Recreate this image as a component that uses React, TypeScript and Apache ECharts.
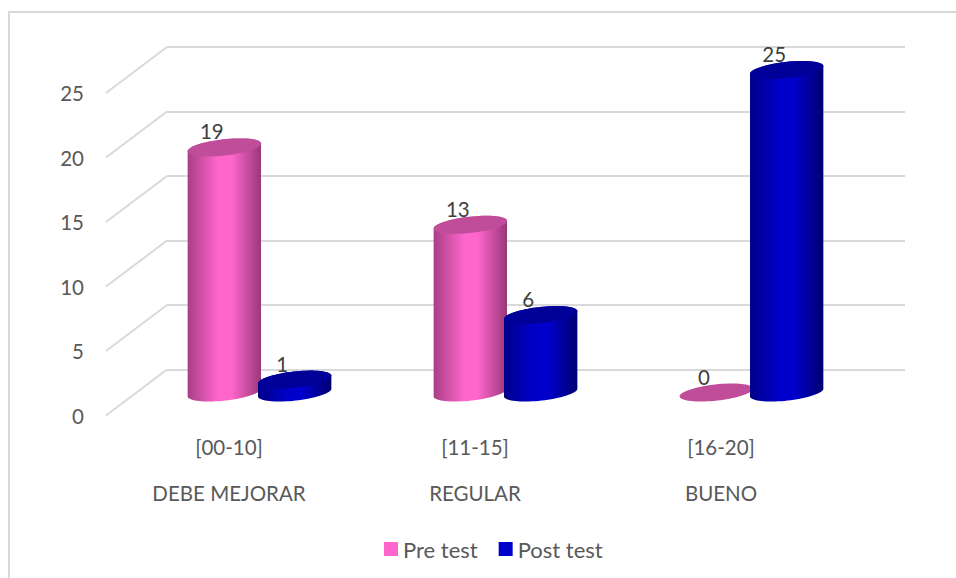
import React, { useEffect, useRef } from "react";
import * as echarts from "echarts";

const ranges = ["[00-10]", "[11-15]", "[16-20]"];
const ratings = ["DEBE MEJORAR", "REGULAR", "BUENO"];
const preTest = [19, 13, 0];
const postTest = [1, 6, 25];
const valueTicks = [0, 5, 10, 15, 20, 25];

const FONT = "Lato, Carlito, sans-serif";
const GRID_GREY = "#D9D9D9";

// Oblique depth of the floor: front plane, column plane, back wall.
const FRONT = { left: 106, top: 93, width: 738, height: 323 };
const MIDDLE = { left: 136.5, top: 70, width: 738, height: 322.5 };
const BACK = { left: 167, top: 47, width: 738, height: 322.5 };

// Column shape as fractions of a category band.
const RADIUS_SHARE = 0.15;
const OFFSET_SHARE = 0.143;
const MINOR_AXIS = 0.22;
const TILT = (6.3 * Math.PI) / 180;

function ellipsePoint(cx: number, cy: number, a: number, b: number, t: number) {
  const ex = a * Math.cos(t);
  const ey = b * Math.sin(t);
  return [cx + ex * Math.cos(TILT) + ey * Math.sin(TILT), cy - ex * Math.sin(TILT) + ey * Math.cos(TILT)];
}

function ellipseRing(cx: number, cy: number, a: number, b: number) {
  const pts: number[][] = [];
  for (let i = 0; i < 72; i++) pts.push(ellipsePoint(cx, cy, a, b, (i / 72) * Math.PI * 2));
  return pts;
}

function cylinderSeries(name: string, values: number[], side: number, main: string, top: string, dark: string, darker: string) {
  return {
    type: "custom",
    name,
    xAxisIndex: 3,
    yAxisIndex: 2,
    z: 3,
    clip: false,
    silent: true,
    itemStyle: { color: main },
    data: values.map((v, i) => [i, v]),
    renderItem: (_params: any, api: any) => {
      const band = api.size([1, 0])[0];
      const [centerX, topY] = api.coord([api.value(0), api.value(1)]);
      const baseY = api.coord([api.value(0), 0])[1];
      const cx = centerX + side * band * OFFSET_SHARE;
      const a = band * RADIUS_SHARE;
      const b = a * MINOR_AXIS;
      const children: any[] = [];
      if (api.value(1) > 0) {
        // Side wall: lower half of the base ellipse, closed over the upper rim
        // so the cap sits on the wall without a seam.
        const outline: number[][] = [];
        for (let i = 0; i <= 36; i++) {
          outline.push(ellipsePoint(cx, baseY, a, b, Math.PI - (i / 36) * Math.PI));
        }
        for (let i = 0; i <= 36; i++) {
          outline.push(ellipsePoint(cx, topY, a, b, -(i / 36) * Math.PI));
        }
        children.push({
          type: "polygon",
          shape: { points: outline },
          style: {
            fill: new echarts.graphic.LinearGradient(0, 0, 1, 0, [
              { offset: 0, color: dark },
              { offset: 0.42, color: main },
              { offset: 0.6, color: main },
              { offset: 1, color: darker },
            ]),
          },
        });
      }
      children.push({
        type: "polygon",
        shape: { points: ellipseRing(cx, topY, a, b) },
        style: { fill: top },
      });
      children.push({
        type: "text",
        z2: 10,
        style: {
          text: String(api.value(1)),
          x: cx - 12.5,
          y: topY - 16,
          align: "center",
          verticalAlign: "middle",
          fontSize: 20.5,
          fontFamily: FONT,
          fill: "#404040",
        },
      });
      return { type: "group", children };
    },
  };
}

export default function App() {
  const ref = useRef<HTMLDivElement>(null);

  useEffect(() => {
    const chart = echarts.init(ref.current!, undefined, { renderer: "svg" });
    const hiddenCategory = (gridIndex: number) => ({
      type: "category",
      gridIndex,
      data: ranges,
      show: false,
    });
    const labelStyle = { fontSize: 20.5, fontFamily: FONT, color: "#595959" };

    chart.setOption({
      animation: false,
      backgroundColor: "#FFFFFF",
      grid: [
        { ...FRONT, containLabel: false },
        { ...BACK, containLabel: false },
        { ...MIDDLE, containLabel: false },
      ],
      xAxis: [
        {
          type: "category",
          gridIndex: 0,
          data: ranges,
          axisLine: { show: false },
          axisTick: { show: false },
          axisLabel: { ...labelStyle, margin: 20 },
        },
        {
          type: "category",
          gridIndex: 0,
          position: "bottom",
          offset: 46,
          data: ratings,
          axisLine: { show: false },
          axisTick: { show: false },
          axisLabel: { ...labelStyle, margin: 20 },
        },
        hiddenCategory(1),
        hiddenCategory(2),
      ],
      yAxis: [
        {
          type: "value",
          gridIndex: 0,
          min: 0,
          max: 25,
          interval: 5,
          axisLine: { show: false },
          axisTick: { show: false },
          splitLine: { show: false },
          axisLabel: { ...labelStyle, margin: 22 },
        },
        {
          type: "value",
          gridIndex: 1,
          min: 0,
          max: 25,
          interval: 5,
          axisLine: { show: false },
          axisTick: { show: false },
          axisLabel: { show: false },
          splitLine: { show: true, lineStyle: { color: GRID_GREY, width: 2 } },
        },
        { type: "value", gridIndex: 2, min: 0, max: 25, interval: 5, show: false },
      ],
      legend: {
        data: [
          { name: "Pre test", icon: "rect" },
          { name: "Post test", icon: "rect" },
        ],
        left: 384,
        top: 538,
        padding: 0,
        itemWidth: 14,
        itemHeight: 14,
        itemGap: 21,
        itemStyle: { borderWidth: 0 },
        textStyle: { ...labelStyle, fontSize: 22, padding: 0 },
        selectedMode: false,
      },
      graphic: [
        {
          type: "polyline",
          silent: true,
          shape: { points: [[9, 578], [9, 12], [956, 12]] },
          style: { stroke: GRID_GREY, lineWidth: 2, fill: "none" },
        },
      ],
      series: [
        {
          // Side-wall gridlines running from the back wall to the value labels.
          type: "custom",
          name: "side wall",
          xAxisIndex: 2,
          yAxisIndex: 1,
          z: 1,
          silent: true,
          clip: false,
          data: valueTicks.map((v) => [0, v]),
          renderItem: (params: any, api: any) => {
            const y = api.coord([0, api.value(1)])[1];
            const x = params.coordSys.x;
            return {
              type: "line",
              shape: { x1: x, y1: y, x2: x - (BACK.left - FRONT.left), y2: y + (FRONT.top - BACK.top) },
              style: { stroke: GRID_GREY, lineWidth: 2 },
            };
          },
        },
        cylinderSeries("Pre test", preTest, -1, "#FF66CC", "#C04D99", "#A83F86", "#983878"),
        cylinderSeries("Post test", postTest, 1, "#0000CC", "#000099", "#000088", "#000070"),
      ],
    });
    return () => chart.dispose();
  }, []);

  return <div ref={ref} style={{ position: "absolute", left: 0, top: 0, width: 956, height: 578 }} />;
}
